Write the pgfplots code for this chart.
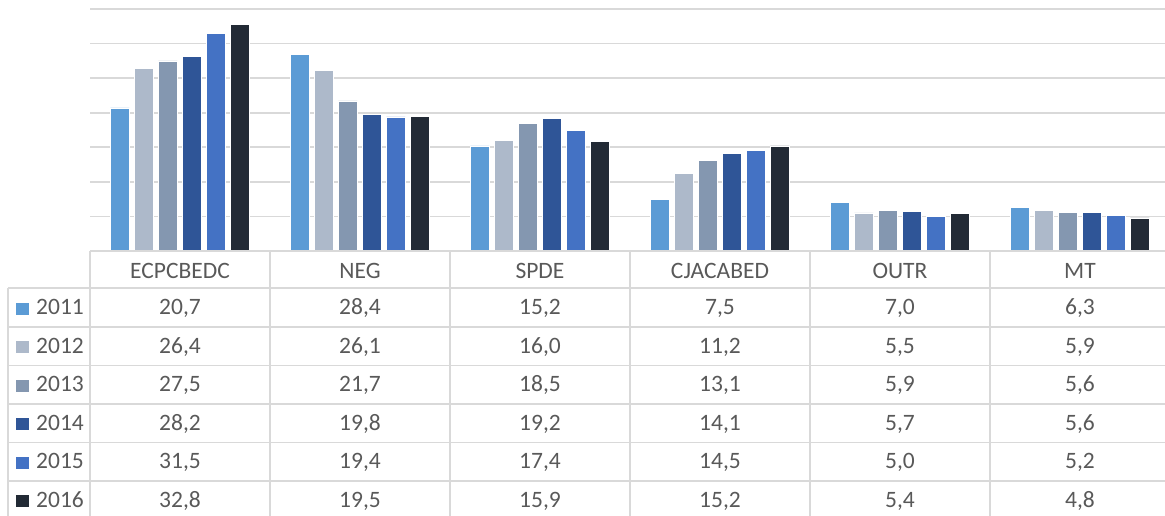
\documentclass[border=0pt]{standalone}
\usepackage{pgfplots}
\pgfplotsset{compat=1.18}
\usepackage{pgfplotstable}
\usepackage{fontspec}
\setmainfont{Carlito}
\definecolor{c2011}{HTML}{5B9BD5}
\definecolor{c2012}{HTML}{ADB9CA}
\definecolor{c2013}{HTML}{8497B0}
\definecolor{c2014}{HTML}{2F5597}
\definecolor{c2015}{HTML}{4472C4}
\definecolor{c2016}{HTML}{222A35}
\definecolor{gridc}{HTML}{D9D9D9}
\definecolor{txt}{HTML}{595959}
\pgfplotstableread{
x cat y2011 y2012 y2013 y2014 y2015 y2016
0 ECPCBEDC 20.7 26.4 27.5 28.2 31.5 32.8
1 NEG 28.4 26.1 21.7 19.8 19.4 19.5
2 SPDE 15.2 16.0 18.5 19.2 17.4 15.9
3 CJACABED 7.5 11.2 13.1 14.1 14.5 15.2
4 OUTR 7.0 5.5 5.9 5.7 5.0 5.4
5 MT 6.3 5.9 5.6 5.6 5.2 4.8
}\datatable
\begin{document}
\begin{tikzpicture}[font=\fontsize{23.5}{28}\selectfont]
\path[use as bounding box] (0pt,0pt) rectangle (1165pt,516pt);
\begin{axis}[
  at={(90pt,265pt)}, anchor=south west,
  scale only axis, width=1080pt, height=242pt,
  xmin=-0.5, xmax=5.5, ymin=0, ymax=35,
  clip=false,
  axis line style={draw=none},
  xtick=\empty,
  ytick={0,5,...,35}, yticklabels={},
  major tick length=0pt,
  ymajorgrids,
  major grid style={gridc, line width=1.6pt},
  /pgf/number format/use comma,
  /pgf/number format/fixed,
  /pgf/number format/fixed zerofill,
  /pgf/number format/precision=1,
  /pgf/number format/assume math mode=true,
  valrow/.style={draw=none, mark=none, forget plot, nodes near coords,
    every node near coord/.append style={anchor=base, inner sep=0pt, text=txt, font=\fontsize{23.5}{28}\selectfont}},
  bars/.style={ybar, bar width=19pt, draw=white, line width=0.6pt},
]
\addplot[bars, bar shift=-60pt, fill=c2011] table[x=x, y=y2011]{\datatable};
\addplot[bars, bar shift=-36pt, fill=c2012] table[x=x, y=y2012]{\datatable};
\addplot[bars, bar shift=-12pt, fill=c2013] table[x=x, y=y2013]{\datatable};
\addplot[bars, bar shift=12pt, fill=c2014] table[x=x, y=y2014]{\datatable};
\addplot[bars, bar shift=36pt, fill=c2015] table[x=x, y=y2015]{\datatable};
\addplot[bars, bar shift=60pt, fill=c2016] table[x=x, y=y2016]{\datatable};
% table header and values
\addplot[valrow, point meta=explicit symbolic] table[x=x, y expr=-4.05, meta=cat]{\datatable};
\addplot[valrow, point meta=explicit] table[x=x, y expr=-9.256, meta=y2011]{\datatable};
\addplot[valrow, point meta=explicit] table[x=x, y expr=-14.824, meta=y2012]{\datatable};
\addplot[valrow, point meta=explicit] table[x=x, y expr=-20.393, meta=y2013]{\datatable};
\addplot[valrow, point meta=explicit] table[x=x, y expr=-25.961, meta=y2014]{\datatable};
\addplot[valrow, point meta=explicit] table[x=x, y expr=-31.529, meta=y2015]{\datatable};
\addplot[valrow, point meta=explicit] table[x=x, y expr=-37.097, meta=y2016]{\datatable};
\end{axis}
% table grid
\begin{scope}[gridc, line width=1.6pt]
\draw (90pt,265pt) -- (1170pt,265pt);
\foreach \py in {228,189,150.5,112,73.5,35} {
  \draw (8pt,\py pt) -- (1170pt,\py pt);
}
\draw (8pt,228pt) -- (8pt,-5pt);
\foreach \px in {90,270,450,630,810,990} {
  \draw (\px pt,265pt) -- (\px pt,-5pt);
}
\end{scope}
% legend column
\foreach \yr/\by in {2011/201,2012/162.5,2013/124,2014/85.5,2015/47,2016/8.5} {
  \fill[c\yr] (16pt,\by pt) rectangle ++(13pt,12pt);
  \node[anchor=base west, inner sep=0pt, text=txt] at (36pt,\by pt) {\yr};
}
\end{tikzpicture}
\end{document}
